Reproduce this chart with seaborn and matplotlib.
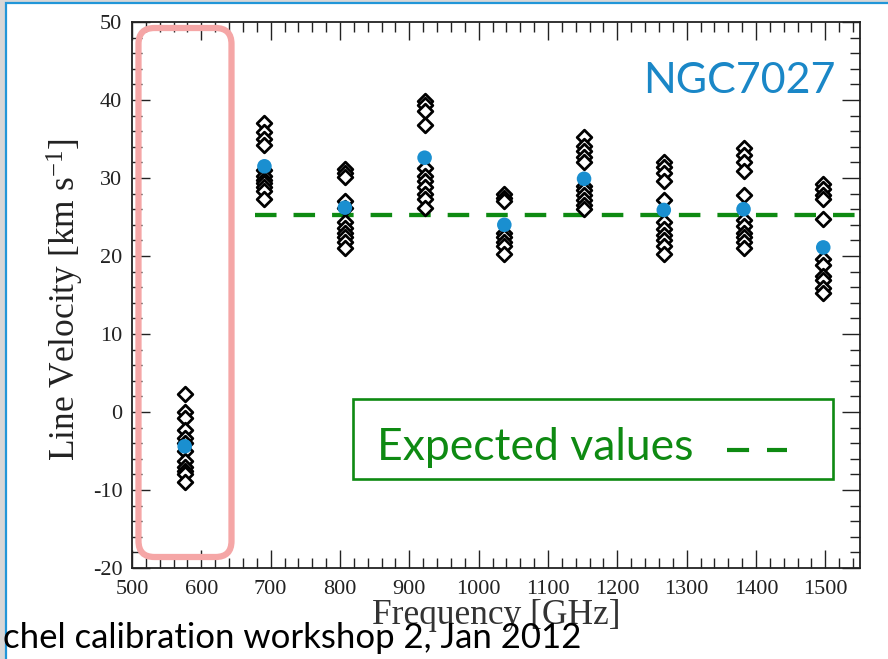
import matplotlib
matplotlib.use("Agg")
import matplotlib.pyplot as plt
import numpy as np
import pandas as pd
import seaborn as sns
from matplotlib.patches import FancyBboxPatch, Rectangle
from matplotlib.lines import Line2D
from matplotlib.transforms import IdentityTransform
from matplotlib.ticker import MultipleLocator

# CO ladder line frequencies [GHz]
line_freqs = [576, 691, 807, 922, 1037, 1152, 1267, 1382, 1497]

# Individual line-velocity measurements per transition [km/s]
vel_576 = [2.3, 0.0, -0.8, -2.3, -3.3, -4.0, -5.0, -6.3, -7.0, -7.6, -8.0, -9.0]
vel_691 = [37.0, 35.9, 35.0, 34.2, 31.0, 30.3, 29.8, 29.3, 28.8, 28.3, 27.3]
vel_807 = [31.2, 30.6, 30.1, 27.0, 26.2, 24.4, 23.6, 23.0, 22.4, 21.8, 21.0]
vel_922 = [39.9, 39.3, 38.6, 36.8, 31.3, 30.3, 29.6, 28.8, 28.0, 27.3, 26.2]
vel_1037 = [27.9, 27.5, 27.1, 23.0, 22.4, 21.8, 21.3, 20.3]
vel_1152 = [35.3, 34.1, 33.4, 32.7, 32.1, 29.0, 28.4, 27.8, 27.2, 26.6, 26.0]
vel_1267 = [32.0, 31.4, 30.6, 29.6, 27.2, 24.4, 23.5, 22.7, 22.0, 21.3, 20.3]
vel_1382 = [33.8, 33.0, 32.1, 30.9, 27.8, 24.6, 23.8, 23.0, 22.4, 21.8, 21.0]
vel_1497 = [29.2, 28.6, 27.8, 27.3, 24.7, 19.6, 18.8, 17.5, 16.9, 15.9, 15.3]

# Average velocity per transition [km/s]
mean_velocity = [-4.4, 31.5, 26.2, 32.6, 24.0, 29.9, 25.9, 26.0, 21.1]

# Expected systemic velocity [km/s]
expected_velocity = 25.3

velocity_sets = [vel_576, vel_691, vel_807, vel_922, vel_1037,
                 vel_1152, vel_1267, vel_1382, vel_1497]
points = pd.DataFrame(
    [(f, v) for f, vs in zip(line_freqs, velocity_sets) for v in vs],
    columns=["freq", "vel"],
)
means = pd.DataFrame({"freq": line_freqs, "vel": mean_velocity})

sns.set_theme(style="ticks")
plt.rcParams["font.family"] = ["Liberation Serif", "DejaVu Serif"]
plt.rcParams["mathtext.fontset"] = "custom"
plt.rcParams["mathtext.rm"] = "Liberation Serif"
plt.rcParams["mathtext.it"] = "Liberation Serif:italic"
plt.rcParams["axes.unicode_minus"] = False

W, H = 888, 659
GREEN = "#0e8a12"
BLUE = "#1a8fd0"
PINK = "#f5a6a6"

fig = plt.figure(figsize=(W / 100, H / 100), dpi=100)
fig.patch.set_facecolor("#d7d7d7")

# white slide panel with blue border
fig.patches.append(Rectangle((6 / W, -0.1), 1.0, (H - 3) / H + 0.1,
                             transform=fig.transFigure, facecolor="white",
                             edgecolor="#2196d8", lw=1.6, zorder=-5))

ax = fig.add_axes([132 / W, (H - 568) / H, (860 - 132) / W, (568 - 22) / H])
ax.set_zorder(1)
ax.set_facecolor("white")

sns.scatterplot(data=points, x="freq", y="vel", marker="D", s=56,
                color="white", edgecolor="black", linewidth=2.0,
                ax=ax, zorder=3, legend=False)
sns.scatterplot(data=means, x="freq", y="vel", marker="o", s=110,
                color=BLUE, edgecolor="none", ax=ax, zorder=4, legend=False)

ax.plot([677, 1550], [expected_velocity, expected_velocity], color=GREEN,
        lw=3.1, dashes=(5.0, 3.95), dash_capstyle="butt", zorder=2)

ax.set_xlim(500, 1550)
ax.set_ylim(-20, 50)
ax.xaxis.set_major_locator(MultipleLocator(100))
ax.xaxis.set_minor_locator(MultipleLocator(20))
ax.yaxis.set_major_locator(MultipleLocator(10))
ax.yaxis.set_minor_locator(MultipleLocator(2))
ax.set_xticks(np.arange(500, 1501, 100))
ax.tick_params(which="both", direction="in", top=True, right=True,
               colors="#222222", labelsize=16, width=1.0)
ax.tick_params(which="major", length=13)
ax.tick_params(which="minor", length=7)
ax.tick_params(axis="x", pad=9)
ax.tick_params(axis="y", pad=7)
for s in ax.spines.values():
    s.set_color("#222222")
    s.set_linewidth(1.3)

ax.set_xlabel("Frequency [GHz]", fontsize=25.5, color="#333333")
ax.xaxis.set_label_coords(0.5, -0.057)
ax.set_ylabel("Line Velocity [km s$^{\\mathregular{-1}}$]", fontsize=25.5,
              color="#222222")
ax.yaxis.set_label_coords(-0.063, 0.491)

# highlighted outlier column
fig.patches.append(FancyBboxPatch((138.5, H - 557), 93, 529,
                                  boxstyle="round,pad=0,rounding_size=16",
                                  transform=IdentityTransform(), fill=False,
                                  edgecolor=PINK, lw=4.5, zorder=5))

fig.text(836 / W, 1 - 93 / H, "NGC7027", ha="right", va="baseline",
         fontsize=31, color="#1a87c7", family=["Lato", "DejaVu Sans"],
         zorder=6)

# expected-values key
fig.patches.append(Rectangle((353 / W, 1 - 479 / H), 480 / W, 80 / H,
                             transform=fig.transFigure, fill=False,
                             edgecolor=GREEN, lw=1.9, zorder=5))
fig.text(377 / W, 1 - 460 / H, "Expected values", ha="left", va="baseline",
         fontsize=32, color=GREEN, family=["Lato", "DejaVu Sans"], zorder=6)
fig.lines.append(Line2D([727 / W, 787 / W], [1 - 450 / H, 1 - 450 / H],
                        transform=fig.transFigure, color=GREEN, lw=3.0,
                        dashes=(5.3, 4.3), dash_capstyle="butt", zorder=6))

fig.text(3 / W, 1 - 648 / H, "chel calibration workshop 2, Jan 2012",
         ha="left", va="baseline", fontsize=25, color="black",
         family=["Lato", "DejaVu Sans"], zorder=10)

fig.savefig("out.png", dpi=100, facecolor=fig.get_facecolor())
